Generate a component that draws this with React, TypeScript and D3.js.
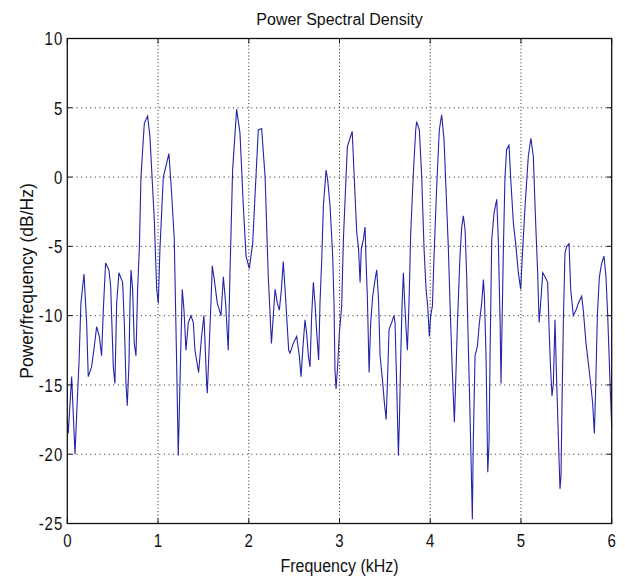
import React from "react";
import * as d3 from "d3";

const title = "Power Spectral Density";
const xLabel = "Frequency (kHz)";
const yLabel = "Power/frequency (dB/Hz)";
const xTicks = [0, 1, 2, 3, 4, 5, 6];
const yTicks = [-25, -20, -15, -10, -5, 0, 5, 10];

const freqKHz = [
  0.0, 0.01, 0.048, 0.085, 0.11, 0.129, 0.15, 0.184, 0.213, 0.231, 0.268, 0.298, 0.323, 0.353, 0.378, 0.397,
  0.422, 0.459, 0.478, 0.507, 0.525, 0.544, 0.569, 0.61, 0.628, 0.647, 0.661, 0.68, 0.69, 0.702, 0.72, 0.738,
  0.757, 0.775, 0.794, 0.812, 0.849, 0.885, 0.911, 0.959, 0.985, 1.003, 1.021, 1.058, 1.12, 1.15, 1.179, 1.205,
  1.223, 1.249, 1.267, 1.286, 1.308, 1.334, 1.363, 1.389, 1.407, 1.447, 1.48, 1.506, 1.536, 1.543, 1.561, 1.58,
  1.598, 1.62, 1.653, 1.694, 1.72, 1.745, 1.774, 1.793, 1.822, 1.866, 1.903, 1.94, 1.97, 2.006, 2.043, 2.07,
  2.105, 2.142, 2.18, 2.215, 2.25, 2.29, 2.315, 2.337, 2.36, 2.38, 2.4, 2.44, 2.455, 2.49, 2.528, 2.557,
  2.576, 2.6, 2.62, 2.638, 2.657, 2.675, 2.693, 2.712, 2.73, 2.748, 2.77, 2.785, 2.804, 2.822, 2.852, 2.87,
  2.896, 2.925, 2.94, 2.95, 2.962, 2.98, 2.998, 3.024, 3.043, 3.072, 3.087, 3.116, 3.14, 3.16, 3.19, 3.21,
  3.227, 3.24, 3.263, 3.282, 3.293, 3.307, 3.326, 3.344, 3.366, 3.392, 3.41, 3.43, 3.447, 3.473, 3.495, 3.514,
  3.528, 3.546, 3.575, 3.6, 3.612, 3.63, 3.649, 3.66, 3.675, 3.69, 3.704, 3.715, 3.73, 3.748, 3.766, 3.785,
  3.814, 3.84, 3.85, 3.88, 3.906, 3.932, 3.954, 3.972, 3.99, 4.005, 4.024, 4.042, 4.07, 4.1, 4.126, 4.152,
  4.174, 4.2, 4.218, 4.244, 4.266, 4.28, 4.3, 4.328, 4.347, 4.365, 4.384, 4.402, 4.42, 4.439, 4.457, 4.464,
  4.475, 4.494, 4.52, 4.542, 4.567, 4.586, 4.597, 4.615, 4.634, 4.648, 4.66, 4.678, 4.703, 4.733, 4.75, 4.77,
  4.78, 4.806, 4.824, 4.842, 4.868, 4.886, 4.916, 4.942, 4.971, 4.997, 5.015, 5.045, 5.081, 5.11, 5.136, 5.162,
  5.184, 5.2, 5.217, 5.24, 5.265, 5.294, 5.313, 5.327, 5.342, 5.357, 5.375, 5.394, 5.412, 5.43, 5.441, 5.452,
  5.467, 5.485, 5.504, 5.53, 5.548, 5.577, 5.607, 5.632, 5.669, 5.687, 5.717, 5.742, 5.768, 5.79, 5.809, 5.823,
  5.842, 5.864, 5.89, 5.915, 5.937, 5.956, 5.982, 6.0,
];

const psdDb = [
  -17.5, -18.5, -14.4, -20.0, -16.1, -13.4, -9.1, -7.0, -10.5, -14.4, -13.7, -12.2, -10.8, -11.5, -12.9, -9.6,
  -6.2, -6.7, -7.9, -13.7, -14.9, -9.1, -6.9, -7.6, -10.5, -14.9, -16.5, -13.4, -9.3, -6.7, -8.1, -12.0,
  -12.9, -8.1, -5.2, 0.0, 3.9, 4.4, 2.9, -3.1, -8.1, -9.1, -5.2, 0.0, 1.7, -1.2, -4.5, -13.4,
  -20.1, -12.9, -8.1, -9.6, -12.5, -10.5, -10.0, -10.5, -12.5, -14.1, -11.5, -10.0, -14.9, -15.6, -12.7, -9.6,
  -6.4, -7.4, -9.1, -10.0, -7.2, -9.1, -12.5, -6.9, 0.5, 4.9, 3.2, -2.1, -5.7, -6.6, -4.8, -1.2,
  3.4, 3.5, 0.0, -7.2, -12.0, -8.1, -9.1, -9.6, -8.1, -6.1, -8.1, -12.5, -12.7, -12.0, -11.5, -12.9,
  -14.4, -12.0, -10.3, -11.3, -12.9, -13.7, -10.0, -7.6, -9.1, -11.1, -13.2, -9.1, -6.0, -2.1, 0.5, -0.2,
  -2.1, -5.7, -9.3, -13.9, -15.3, -13.6, -11.3, -9.3, -4.5, 0.0, 2.2, 2.8, 3.3, 0.3, -4.0, -5.2,
  -7.6, -5.2, -4.5, -3.6, -6.2, -8.6, -14.1, -10.5, -8.6, -7.4, -6.7, -8.8, -12.9, -14.6, -16.3, -17.5,
  -14.9, -11.0, -10.5, -10.0, -10.5, -14.9, -20.1, -17.7, -12.9, -9.1, -6.9, -8.6, -10.5, -12.5, -9.1, -4.0,
  0.3, 3.4, 4.0, 3.4, 0.0, -5.2, -8.1, -9.3, -11.5, -10.0, -9.3, -5.7, -0.9, 3.4, 4.5, 2.7,
  -0.9, -5.2, -9.1, -14.1, -17.7, -14.9, -10.5, -5.7, -3.6, -2.8, -3.8, -7.2, -12.2, -17.3, -22.5, -24.7,
  -18.9, -12.9, -12.2, -10.5, -9.1, -7.4, -8.6, -12.9, -21.3, -19.2, -12.5, -4.5, -2.6, -1.6, -4.5, -10.5,
  -14.9, -5.2, 0.0, 2.0, 2.3, 0.0, -3.3, -4.8, -6.9, -8.1, -5.7, -2.1, 1.5, 2.8, 1.5, -3.3,
  -6.9, -10.5, -9.1, -6.9, -7.2, -7.6, -11.5, -13.9, -15.8, -14.9, -10.3, -14.9, -18.7, -22.5, -21.6, -16.5,
  -10.5, -5.5, -5.0, -4.8, -8.1, -10.0, -9.6, -9.1, -8.6, -9.6, -12.0, -13.4, -14.9, -16.3, -18.5, -15.3,
  -10.0, -7.2, -6.2, -5.7, -7.2, -10.0, -14.9, -18.0,
];

const W = 625;
const H = 576;
const left = 67.3;
const right = 611.7;
const top = 38.5;
const bottom = 523.5;
const FONT = "Arial, 'Liberation Sans', Helvetica, sans-serif";

export default function App() {
  const x = d3.scaleLinear().domain([0, 6]).range([left, right]);
  const y = d3.scaleLinear().domain([-25, 10]).range([bottom, top]);
  const pts = freqKHz.map((f, i) => [f, psdDb[i]] as [number, number]);
  const line = d3
    .line<[number, number]>()
    .x((d) => x(d[0]))
    .y((d) => y(d[1]));
  const tickLen = 5;

  return (
    <svg
      width={W}
      height={H}
      style={{ position: "absolute", left: 0, top: 0, background: "#fff" }}
      fontFamily={FONT}
    >
      <rect x={0} y={0} width={W} height={H} fill="#fff" />
      {/* grid */}
      {xTicks
        .filter((t) => t > 0 && t < 6)
        .map((t) => (
          <line
            key={"gx" + t}
            x1={x(t)}
            x2={x(t)}
            y1={top}
            y2={bottom}
            stroke="#222"
            strokeWidth={1}
            strokeDasharray="1,2.4"
          />
        ))}
      {yTicks
        .filter((t) => t > -25 && t < 10)
        .map((t) => (
          <line
            key={"gy" + t}
            x1={left}
            x2={right}
            y1={y(t)}
            y2={y(t)}
            stroke="#222"
            strokeWidth={1}
            strokeDasharray="1,3.6"
          />
        ))}
      {/* data */}
      <path d={line(pts) || ""} fill="none" stroke="#2424a8" strokeWidth={1.1} />
      {/* box */}
      <rect
        x={left}
        y={top}
        width={right - left}
        height={bottom - top}
        fill="none"
        stroke="#111"
        strokeWidth={1.3}
      />
      {/* ticks */}
      {xTicks.map((t) => (
        <g key={"tx" + t} stroke="#111" strokeWidth={1}>
          <line x1={x(t)} x2={x(t)} y1={bottom} y2={bottom - tickLen} />
          <line x1={x(t)} x2={x(t)} y1={top} y2={top + tickLen} />
        </g>
      ))}
      {yTicks.map((t) => (
        <g key={"ty" + t} stroke="#111" strokeWidth={1}>
          <line x1={left} x2={left + tickLen} y1={y(t)} y2={y(t)} />
          <line x1={right} x2={right - tickLen} y1={y(t)} y2={y(t)} />
        </g>
      ))}
      {/* tick labels */}
      {xTicks.map((t) => (
        <text
          key={"lx" + t}
          transform={`translate(${x(t)},${bottom + 23}) scale(1,1.25)`}
          textAnchor="middle"
          fontSize={15}
          fill="#111"
        >
          {d3.format("d")(t)}
        </text>
      ))}
      {yTicks.map((t) => (
        <text
          key={"ly" + t}
          transform={`translate(${left - 4},${y(t)}) scale(1,1.25)`}
          textAnchor="end"
          dy="0.36em"
          fontSize={15}
          letterSpacing={1}
          fill="#111"
        >
          {t < 0 ? "-" + Math.abs(t) : String(t)}
        </text>
      ))}
      {/* labels */}
      <text x={(left + right) / 2} y={25} textAnchor="middle" fontSize={16} fill="#111">
        {title}
      </text>
      <text
        transform={`translate(${(left + right) / 2},${572}) scale(1,1.1)`}
        textAnchor="middle"
        fontSize={16}
        fill="#111"
      >
        {xLabel}
      </text>
      <text
        transform={`translate(33,${(top + bottom) / 2}) rotate(-90)`}
        textAnchor="middle"
        fontSize={17.5}
        fill="#111"
      >
        {yLabel}
      </text>
    </svg>
  );
}
